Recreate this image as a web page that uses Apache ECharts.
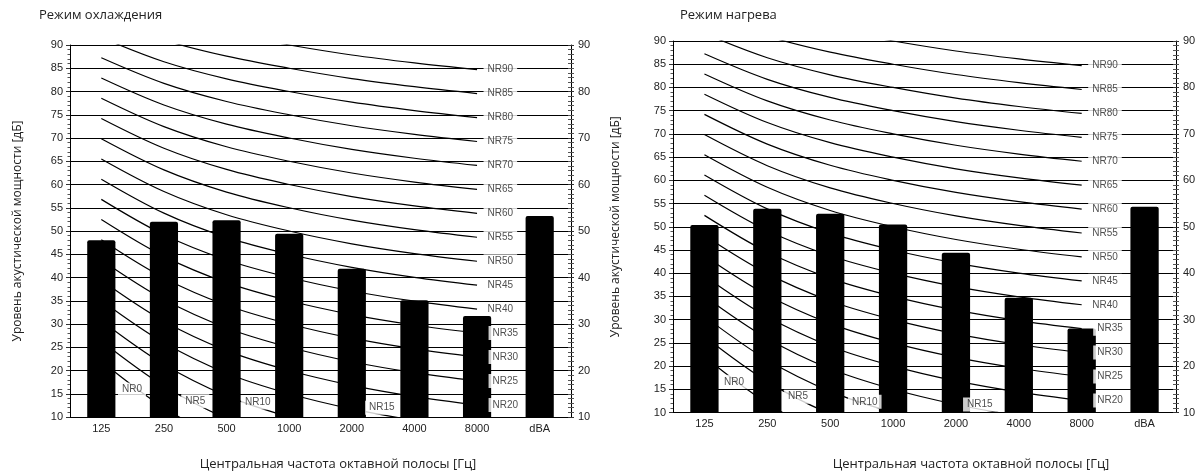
<!DOCTYPE html>
<html><head><meta charset="utf-8">
<script src="https://cdn.jsdelivr.net/npm/echarts/dist/echarts.min.js"></script>
<style>html,body{margin:0;padding:0;background:#fff}#c{width:1195px;height:473px}</style>
</head><body><div id="c"></div>
<script>
// ---- data ----
const categories = ['125', '250', '500', '1000', '2000', '4000', '8000', 'dBA'];
const coolingValues = [48.0, 52.0, 52.3, 49.4, 41.9, 35.1, 31.7, 53.2];
const heatingValues = [50.4, 53.9, 52.8, 50.5, 44.4, 34.7, 28.1, 54.3];
const chartTitles = ['Режим охлаждения', 'Режим нагрева'];
const xAxisTitle = 'Центральная частота октавной полосы [Гц]';
const yAxisTitle = 'Уровень акустической мощности [дБ]';
const nrNames = ['NR0','NR5','NR10','NR15','NR20','NR25','NR30','NR35','NR40','NR45','NR50','NR55','NR60','NR65','NR70','NR75','NR80','NR85','NR90'];
// NR curve levels at 125 ... 8000 Hz
const nr0  = [22.00, 12.00,  4.80,  0.00, -3.50, -6.10, -8.00];
const nr5  = [26.35, 16.65,  9.67,  5.00,  1.58, -0.98, -2.85];
const nr10 = [30.70, 21.30, 14.54, 10.00,  6.65,  4.15,  2.30];
const nr15 = [35.05, 25.95, 19.41, 15.00, 11.73,  9.28,  7.45];
const nr20 = [39.40, 30.60, 24.28, 20.00, 16.80, 14.40, 12.60];
const nr25 = [43.75, 35.25, 29.15, 25.00, 21.88, 19.53, 17.75];
const nr30 = [48.10, 39.90, 34.02, 30.00, 26.95, 24.65, 22.90];
const nr35 = [52.45, 44.55, 38.89, 35.00, 32.03, 29.78, 28.05];
const nr40 = [56.80, 49.20, 43.76, 40.00, 37.10, 34.90, 33.20];
const nr45 = [61.15, 53.85, 48.63, 45.00, 42.18, 40.03, 38.35];
const nr50 = [65.50, 58.50, 53.50, 50.00, 47.25, 45.15, 43.50];
const nr55 = [69.85, 63.15, 58.37, 55.00, 52.33, 50.28, 48.65];
const nr60 = [74.20, 67.80, 63.24, 60.00, 57.40, 55.40, 53.80];
const nr65 = [78.55, 72.45, 68.11, 65.00, 62.48, 60.53, 58.95];
const nr70 = [82.90, 77.10, 72.98, 70.00, 67.55, 65.65, 64.10];
const nr75 = [87.25, 81.75, 77.85, 75.00, 72.63, 70.78, 69.25];
const nr80 = [91.60, 86.40, 82.72, 80.00, 77.70, 75.90, 74.40];
const nr85 = [95.95, 91.05, 87.59, 85.00, 82.78, 81.03, 79.55];
const nr90 = [100.30, 95.70, 92.46, 90.00, 87.85, 86.15, 84.70];
const nrCurves = [nr0,nr5,nr10,nr15,nr20,nr25,nr30,nr35,nr40,nr45,nr50,nr55,nr60,nr65,nr70,nr75,nr80,nr85,nr90];
// where the low-NR labels sit on their curves (category index, level)
const coolingLowLabels = [[0.49, 15.9], [1.50, 13.4], [2.50, 13.1], [4.48, 12.0]];
const heatingLowLabels = [[0.47, 16.6], [1.49, 13.4], [2.55, 12.3], [4.38, 11.7]];

// ---- layout ----
const grids = [
  {left: 70, top: 45, width: 501, height: 372},
  {left: 673, top: 41, width: 503, height: 371.5}
];
const titleLeft = [39, 680];
const yNameGap = [46, 51];
const xNamePad = [35, 93];
const xNameGap = [41, 45];

const tickFont = {fontFamily: 'Liberation Sans', fontSize: 11, color: '#222'};
const nrFont = {fontFamily: 'Liberation Sans', fontSize: 10, color: '#222'};
const textFont = 'Open Sans';

const option = {
  animation: false,
  backgroundColor: '#fff',
  title: chartTitles.map((t, i) => ({
    text: t, left: titleLeft[i], top: 9, padding: 0,
    textStyle: {fontFamily: textFont, fontSize: 13, fontWeight: 'normal', color: '#222'}
  })),
  grid: grids.map(g => Object.assign({containLabel: false, outerBoundsMode: 'none'}, g)),
  xAxis: [],
  yAxis: [],
  series: []
};

[coolingValues, heatingValues].forEach((vals, g) => {
  const xCat = option.xAxis.length;
  option.xAxis.push({
    type: 'category', gridIndex: g, data: categories,
    axisTick: {show: false},
    axisLine: {onZero: false, lineStyle: {color: '#000', width: 1}},
    axisLabel: Object.assign({margin: 6}, tickFont),
    name: xAxisTitle, nameLocation: 'middle', nameGap: xNameGap[g],
    nameTextStyle: {fontFamily: textFont, fontSize: 13, color: '#222', padding: [0, 0, 0, xNamePad[g]]}
  });
  const xVal = option.xAxis.length;
  option.xAxis.push({type: 'value', gridIndex: g, show: false, min: -0.5, max: 7.5,
    axisLine: {onZero: false}, splitLine: {show: false}});

  const yMain = option.yAxis.length;
  option.yAxis.push({
    type: 'value', gridIndex: g, min: 10, max: 90, interval: 5, position: 'left',
    axisLine: {show: true, onZero: false, lineStyle: {color: '#000', width: 1}},
    axisTick: {show: true, length: 4, lineStyle: {color: '#333'}},
    minorTick: {show: true, splitNumber: 5, length: 2.5, lineStyle: {color: '#555'}},
    axisLabel: Object.assign({margin: 7}, tickFont),
    splitLine: {show: true, lineStyle: {color: '#000', width: 1}},
    name: yAxisTitle, nameLocation: 'middle', nameGap: yNameGap[g],
    nameTextStyle: {fontFamily: textFont, fontSize: 12, color: '#222'}
  });
  option.yAxis.push({
    type: 'value', gridIndex: g, min: 10, max: 90, interval: 10, position: 'right',
    axisLine: {show: true, onZero: false, lineStyle: {color: '#000', width: 1}},
    axisTick: {show: true, length: 3, lineStyle: {color: '#333'}},
    minorTick: {show: true, splitNumber: 10, length: 3, lineStyle: {color: '#555'}},
    axisLabel: Object.assign({margin: 7}, tickFont),
    splitLine: {show: false}
  });
  option.yAxis.push({
    type: 'value', gridIndex: g, min: 10, max: 90, interval: 10, position: 'right',
    axisLine: {show: false, onZero: false},
    axisTick: {show: true, inside: true, length: 3, lineStyle: {color: '#333'}},
    minorTick: {show: true, splitNumber: 10, length: 3, lineStyle: {color: '#555'}},
    axisLabel: {show: false},
    splitLine: {show: false}
  });

  nrCurves.forEach((curve) => {
    option.series.push({
      type: 'line', xAxisIndex: xCat, yAxisIndex: yMain, data: curve,
      smooth: 0.35, symbol: 'none', silent: true, z: 2,
      lineStyle: {color: '#000', width: 1.2}
    });
  });

  option.series.push({
    type: 'bar', xAxisIndex: xCat, yAxisIndex: yMain, data: vals,
    barWidth: '45%', z: 3, silent: true,
    itemStyle: {color: '#000', borderRadius: [2, 2, 0, 0]}
  });

  const low = g === 0 ? coolingLowLabels : heatingLowLabels;
  const labelData = [];
  nrCurves.forEach((curve, k) => {
    if (k < 4) {
      labelData.push({value: low[k], name: nrNames[k], label: {position: 'inside'}});
    } else {
      labelData.push({value: [6, curve[6]], name: nrNames[k],
        label: {position: 'right', distance: k <= 7 ? 11 : 6}});
    }
  });
  option.series.push({
    type: 'scatter', xAxisIndex: xVal, yAxisIndex: yMain, data: labelData,
    symbolSize: 1, silent: true, z: 5, clip: false,
    itemStyle: {color: 'rgba(0,0,0,0)'},
    label: Object.assign({show: true, formatter: '{b}', backgroundColor: '#fff', padding: [2, 4]}, nrFont)
  });
});

const chart = echarts.init(document.getElementById('c'), null, {renderer: 'canvas'});
chart.setOption(option);
</script>
</body></html>
